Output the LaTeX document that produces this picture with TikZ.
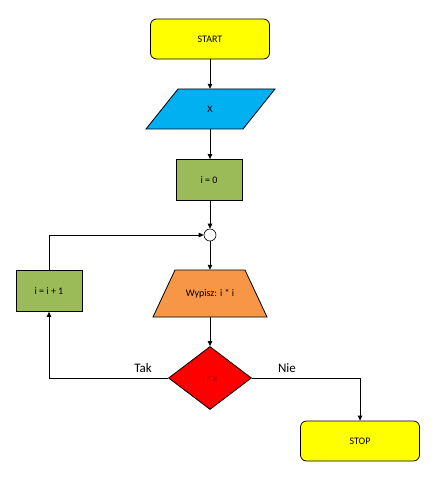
\documentclass[tikz,border=0pt]{standalone}
\usepackage{fontspec}
\setmainfont{Carlito}
\usetikzlibrary{shapes.geometric,arrows.meta}
\definecolor{cyel}{HTML}{FFFF00}
\definecolor{cblue}{HTML}{00B0F0}
\definecolor{cgreen}{HTML}{9BBB59}
\definecolor{corange}{HTML}{F79646}
\definecolor{cred}{HTML}{FF0000}
\tikzset{
  base/.style={draw=black, line width=0.8pt, inner sep=0pt, font=\fontsize{10}{11}\selectfont},
  term/.style={base, fill=cyel, rounded corners=6pt, minimum width=119pt, minimum height=40pt},
  shapebox/.style={inner sep=0pt, font=\fontsize{10}{11}\selectfont},
  shp/.style={draw=black, line width=0.8pt, line join=miter},
  proc/.style={base, fill=cgreen, minimum width=66pt, minimum height=41pt},
  dec/.style={base, fill=cred, diamond, minimum width=83pt, minimum height=63pt},
  junc/.style={draw=black, line width=0.6pt, fill=white, circle, minimum size=12pt, inner sep=0pt},
  conn/.style={draw=black, line width=0.8pt, -{Triangle[length=5pt,width=4.5pt]}},
  lab/.style={font=\fontsize{13}{15}\selectfont}
}
\begin{document}
\begin{tikzpicture}[x=1pt,y=-1pt]
\useasboundingbox (0,0) rectangle (439,478);
\node[term] (start) at (210,39) {START};
\path[shp, fill=cblue] (178,89) -- (275,89) -- (243,129) -- (146,129) -- cycle;
\node[shapebox, minimum width=97pt, minimum height=40pt] (x) at (210,109) {X};
\node[proc] (i0) at (209,180) {i = 0};
\node[junc] (j) at (210,235) {};
\path[shp, fill=corange] (175,270) -- (245,270) -- (267,317) -- (153,317) -- cycle;
\node[shapebox, minimum width=90pt, minimum height=47pt] (out) at (210,293.5) {Wypisz: i * i};
\node[dec, text=cred!60!black, font=\fontsize{9}{10}\selectfont] (d) at (210,378) {i < x};
\node[proc] (inc) at (49,291) {i = i + 1};
\node[term] (stop) at (360,441) {STOP};
\draw[conn] (start) -- (x);
\draw[conn] (x) -- (i0.north -| x.south);
\draw[conn] (i0.south -| j) -- (j);
\draw[conn] (j) -- (out);
\draw[conn] (out) -- (d);
\draw[conn] (d.west) -- (d.west -| inc.south) -- (inc.south);
\draw[conn] (inc.north) |- (j.west);
\draw[conn] (d.east) -| (stop.north);
\node[lab] (tak) at (143,368) {Tak};
\node[lab] (nie) at (287,368) {Nie};
\end{tikzpicture}
\end{document}
